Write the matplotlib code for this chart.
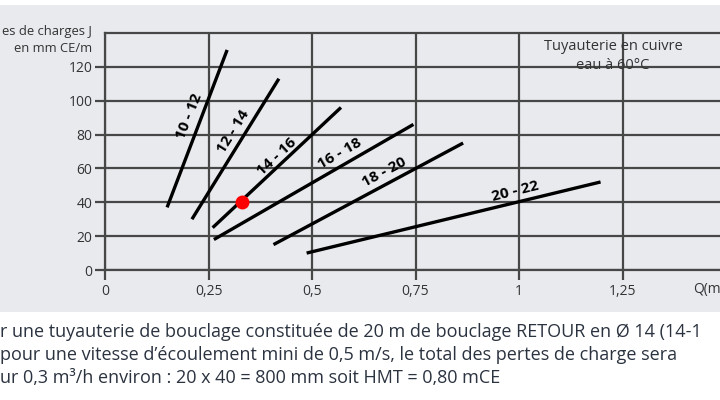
import matplotlib
matplotlib.use("Agg")
import matplotlib.pyplot as plt
from matplotlib.patches import Rectangle

plt.rcParams['font.family'] = ['Open Sans', 'DejaVu Sans']

# ---- data ----
series_names = ["10 - 12", "12 - 14", "14 - 16", "16 - 18", "18 - 20", "20 - 22"]
series_x = [[0.15, 0.295], [0.21, 0.42], [0.26, 0.57], [0.263, 0.745], [0.407, 0.865], [0.487, 1.197]]
series_y = [[37, 130], [30, 113], [25, 96], [18, 86], [15, 75], [10, 52]]
label_x = [0.203, 0.309, 0.414, 0.566, 0.675, 0.99]
label_y = [91, 81.7, 67, 69, 58, 46.3]
label_rot = [68, 58, 43, 30, 28, 14]
point_x = [0.33]
point_y = [40]
xticks = [0, 0.25, 0.5, 0.75, 1, 1.25]
xtick_labels = ["0", "0,25", "0,5", "0,75", "1", "1,25"]
yticks = [0, 20, 40, 60, 80, 100, 120]
ytick_labels = ["0", "20", "40", "60", "80", "100", "120"]
ylabel_lines = "es de charges J\nen mm CE/m"
xlabel_text = "Q(m"
title_text = "Tuyauterie en cuivre\neau à 60°C"
note_lines = [
    "r une tuyauterie de bouclage constituée de 20 m de bouclage RETOUR en Ø 14 (14-1",
    "pour une vitesse d\u2019écoulement mini de 0,5 m/s, le total des pertes de charge sera",
    "ur 0,3 m³/h environ : 20 x 40 = 800 mm soit HMT = 0,80 mCE",
]

W, H = 720, 400
fig = plt.figure(figsize=(7.2, 4), dpi=100)
fig.patch.set_facecolor("white")
bg = "#e8eaee"
fig.patches.append(Rectangle((0, (H - 312) / H), 1, (312 - 5) / H, transform=fig.transFigure,
                             facecolor=bg, edgecolor="none", zorder=-5))

ax_left, ax_right = 105, 720
ax_top, ax_bot = 33, 270
ax = fig.add_axes([ax_left / W, (H - ax_bot) / H, (ax_right - ax_left) / W, (ax_bot - ax_top) / H])
ax.set_zorder(2)
ax.set_facecolor(bg)
ax.set_xlim(0, (ax_right - ax_left) / 414)
ax.set_ylim(0, 140)

gc = "#474747"
ax.set_xticks(xticks)
ax.set_xticklabels(xtick_labels)
ax.set_yticks(yticks)
ax.set_yticklabels(ytick_labels)
ax.tick_params(axis="both", direction="out", length=7, width=1.6, color=gc,
               labelsize=10, labelcolor="#333333")
ax.tick_params(axis="x", pad=3)
ax.tick_params(axis="y", pad=2)
ax.grid(True, color=gc, lw=1.6, zorder=1)
ax.set_axisbelow(True)
for s in ["left", "top", "bottom"]:
    ax.spines[s].set_color(gc)
    ax.spines[s].set_linewidth(1.6)
ax.spines["right"].set_visible(False)

for xs, ys in zip(series_x, series_y):
    ax.plot(xs, ys, color="black", lw=2.4, solid_capstyle="butt", zorder=3)
for name, lx, ly, r in zip(series_names, label_x, label_y, label_rot):
    ax.text(lx, ly, name, rotation=r, rotation_mode="anchor", ha="center", va="center",
            fontsize=11, fontweight="bold", color="black", zorder=4)
ax.plot(point_x, point_y, "o", color="#ff0000", markersize=9, zorder=5)

ax.text(1.227, 126.5, title_text, ha="center", va="center", fontsize=10.5, color="#333333",
        linespacing=1.3, zorder=4)

fig.text(92 / W, (H - 40.5) / H, ylabel_lines, ha="right", va="center", fontsize=9.4,
         color="#333333", linespacing=1.4)
fig.text(693 / W, (H - 289) / H, xlabel_text, ha="left", va="center", fontsize=10,
         color="#333333")

for i, line in enumerate(note_lines):
    fig.text(0 / W, (H - (332 + 23 * i)) / H, line, ha="left", va="center",
             fontsize=13, color="#2b3340")

fig.savefig("out.png", dpi=100, facecolor=fig.get_facecolor())
